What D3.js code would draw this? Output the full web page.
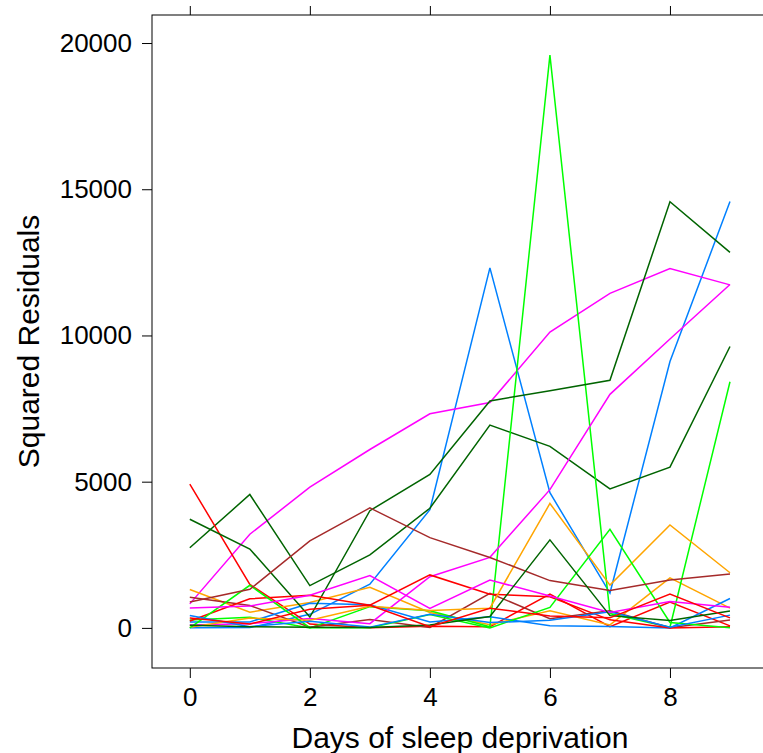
<!DOCTYPE html>
<html>
<head>
<meta charset="utf-8">
<script src="https://cdn.jsdelivr.net/npm/d3@7"></script>
<style>
  body { margin: 0; background: #fff; }
  svg { display: block; font-family: "Liberation Sans", Arial, sans-serif; }
</style>
</head>
<body>
<div id="chart"></div>
<script>
// days on the x axis
const days = [0, 1, 2, 3, 4, 5, 6, 7, 8, 9];
const subjects = ["308", "309", "310", "330", "331", "332", "333", "334", "335",
  "337", "349", "350", "351", "352", "369", "370", "371", "372"];

// squared residuals per subject
const s308 = [3, 10, 464, 1492, 4041, 12310, 4623, 1192, 9109, 14578];
const s309 = [822, 3204, 4811, 6100, 7321, 7705, 10116, 11438, 12287, 11729];
const s310 = [2741, 4562, 1446, 2497, 4092, 6936, 6208, 4751, 5495, 9622];
const s330 = [4919, 1485, 133, 5, 56, 38, 1154, 41, 888, 71];
const s331 = [1311, 535, 869, 1392, 529, 109, 582, 103, 1713, 674];
const s332 = [274, 363, 0, 727, 585, 39, 19587, 491, 23, 8418];
const s333 = [1052, 766, 20, 289, 15, 1185, 317, 584, 3, 270];
const s334 = [198, 205, 839, 792, 203, 382, 75, 47, 0, 1004];
const s335 = [96, 146, 319, 144, 1750, 2412, 4728, 7987, 9878, 11742];
const s337 = [3716, 2698, 371, 4008, 5249, 7762, 8109, 8466, 14574, 12839];
const s349 = [234, 996, 1116, 778, 1812, 1154, 1066, 275, 1, 36];
const s350 = [24, 339, 260, 744, 593, 675, 4255, 1462, 3522, 1887];
const s351 = [1, 1458, 6, 5, 460, 1, 700, 3374, 185, 4];
const s352 = [884, 1319, 2975, 4102, 3087, 2410, 1618, 1279, 1640, 1843];
const s369 = [421, 43, 228, 27, 464, 181, 258, 550, 26, 437];
const s370 = [683, 748, 1118, 1792, 663, 1636, 1093, 525, 901, 709];
const s371 = [90, 40, 20, 10, 100, 390, 3010, 420, 250, 580];
const s372 = [341, 135, 638, 774, 37, 669, 411, 344, 1156, 343];

const xTicks = [0, 2, 4, 6, 8];
const yTicks = [0, 5000, 10000, 15000, 20000];

// lattice superpose colours, recycled over the subjects
const palette = ["#0080ff", "#ff00ff", "#006400", "#ff0000", "#ffa500", "#00ff00", "#a52a2a"];

window.onload = function () {
  const W = 763, H = 753;
  const panel = { left: 152, top: 15, right: 767.8, bottom: 668 };

  const series = [s308, s309, s310, s330, s331, s332, s333, s334, s335,
    s337, s349, s350, s351, s352, s369, s370, s371, s372];

  const svg = d3.select("#chart").append("svg")
    .attr("width", W).attr("height", H);

  const x = d3.scaleLinear().domain([-0.63, 9.63]).range([panel.left, panel.right]);
  const y = d3.scaleLinear().domain([-1371, 20958]).range([panel.bottom, panel.top]);

  const line = d3.line().x((d, i) => x(days[i])).y((d) => y(d));

  svg.append("g")
    .selectAll("path")
    .data(series)
    .enter()
    .append("path")
    .attr("d", line)
    .attr("fill", "none")
    .attr("stroke", (d, i) => palette[i % palette.length])
    .attr("stroke-width", 1.5)
    .attr("stroke-linejoin", "miter");

  // panel box
  svg.append("rect")
    .attr("x", panel.left).attr("y", panel.top)
    .attr("width", panel.right - panel.left)
    .attr("height", panel.bottom - panel.top)
    .attr("fill", "none").attr("stroke", "#000").attr("stroke-width", 1);

  // axes: labels on left/bottom, bare ticks on top/right
  const left = svg.append("g").attr("transform", `translate(${panel.left},0)`)
    .call(d3.axisLeft(y).tickValues(yTicks).tickSize(10).tickPadding(10).tickFormat(d3.format("d")));
  const bottom = svg.append("g").attr("transform", `translate(0,${panel.bottom})`)
    .call(d3.axisBottom(x).tickValues(xTicks).tickSize(10).tickPadding(10).tickFormat(d3.format("d")));
  svg.append("g").attr("transform", `translate(0,${panel.top})`)
    .call(d3.axisTop(x).tickValues(xTicks).tickSize(9).tickFormat(""));
  svg.append("g").attr("transform", `translate(${panel.right},0)`)
    .call(d3.axisRight(y).tickValues(yTicks).tickSize(10).tickFormat(""));

  svg.selectAll(".domain").remove();
  svg.selectAll(".tick line").attr("stroke", "#000");
  [left, bottom].forEach((g) =>
    g.selectAll("text")
      .style("font-family", "Liberation Sans, Arial, sans-serif")
      .style("font-size", "26px")
      .attr("fill", "#000"));

  svg.append("text")
    .attr("x", (panel.left + panel.right) / 2)
    .attr("y", 748)
    .attr("text-anchor", "middle")
    .style("font-size", "30px")
    .text("Days of sleep deprivation");

  svg.append("text")
    .attr("transform", `translate(39,${(panel.top + panel.bottom) / 2}) rotate(-90)`)
    .attr("text-anchor", "middle")
    .style("font-size", "30px")
    .text("Squared Residuals");
};
</script>
</body>
</html>
